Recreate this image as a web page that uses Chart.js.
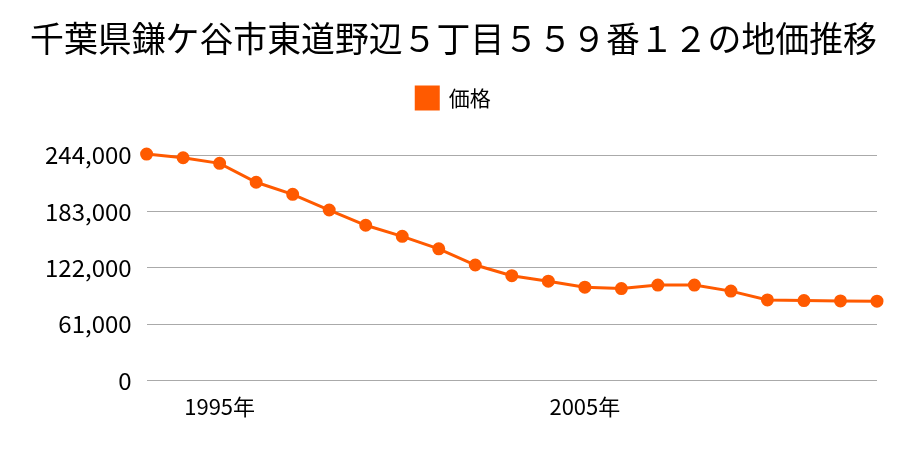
<!DOCTYPE html>
<html>
<head>
<meta charset="utf-8">
<script src="https://cdn.jsdelivr.net/npm/chart.js@4/dist/chart.umd.min.js"></script>
<style>
  html, body { margin: 0; padding: 0; background: #fff; }
  #wrap { width: 900px; height: 450px; }
</style>
</head>
<body>
<div id="wrap"><canvas id="chartCanvas"></canvas></div>
<script>
const years = ["1993", "1994", "1995", "1996", "1997", "1998", "1999", "2000", "2001", "2002",
    "2003", "2004", "2005", "2006", "2007", "2008", "2009", "2010", "2011", "2012", "2013"];
const prices = [245000, 241000, 235000, 214500, 201500, 184500, 168000, 156000, 142500, 125000,
    113500, 107500, 101000, 99500, 103300, 103300, 96800, 87300, 86600, 86200, 85900];
const yTicks = [0, 61000, 122000, 183000, 244000];
const shownYears = ["1995", "2005"];

const fontFamily = "'Noto Sans CJK JP', 'Noto Sans', sans-serif";
const orange = "#ff5a00";

// extra room under the legend
const legendGap = {
    id: "legendGap",
    afterInit(chart) {
        const fit = chart.legend.fit;
        chart.legend.fit = function () {
            fit.bind(chart.legend)();
            this.height += 36;
        };
    }
};

const chartCanvas = document.getElementById("chartCanvas");
const priceChart = new Chart(chartCanvas, {
    type: "line",
    data: {
        labels: years,
        datasets: [{
            label: "価格",
            data: prices,
            borderColor: orange,
            backgroundColor: orange,
            borderWidth: 3,
            pointRadius: 5,
            pointHoverRadius: 5,
            pointBackgroundColor: orange,
            pointBorderColor: orange,
            tension: 0,
            clip: false
        }]
    },
    plugins: [legendGap],
    options: {
        responsive: true,
        maintainAspectRatio: false,
        animation: false,
        layout: {
            padding: { left: 30, right: 23, top: 0, bottom: 25 }
        },
        plugins: {
            title: {
                display: true,
                text: "千葉県鎌ケ谷市東道野辺５丁目５５９番１２の地価推移",
                color: "#000",
                font: { size: 35, family: fontFamily, weight: "normal" },
                padding: { top: 18, bottom: 17 }
            },
            legend: {
                labels: {
                    color: "#000",
                    boxWidth: 22,
                    boxHeight: 22,
                    padding: 10,
                    font: { size: 21, family: fontFamily }
                }
            },
            tooltip: { enabled: false }
        },
        scales: {
            x: {
                offset: false,
                grid: { display: false },
                border: { display: false },
                ticks: {
                    autoSkip: false,
                    maxRotation: 0,
                    color: "#000",
                    padding: 5,
                    font: { size: 22, family: fontFamily },
                    callback: function (value, index) {
                        const y = years[index];
                        return shownYears.includes(y) ? y + "年" : "";
                    }
                }
            },
            y: {
                min: 0,
                max: 244000,
                afterBuildTicks: function (axis) {
                    axis.ticks = yTicks.map(v => ({ value: v }));
                },
                grid: { color: "#aaaaaa", lineWidth: 1, drawTicks: false },
                border: { display: false },
                ticks: {
                    color: "#000",
                    padding: 15,
                    font: { size: 24, family: fontFamily },
                    callback: function (value) {
                        return value.toLocaleString("en-US");
                    }
                }
            }
        }
    }
});
</script>
</body>
</html>
